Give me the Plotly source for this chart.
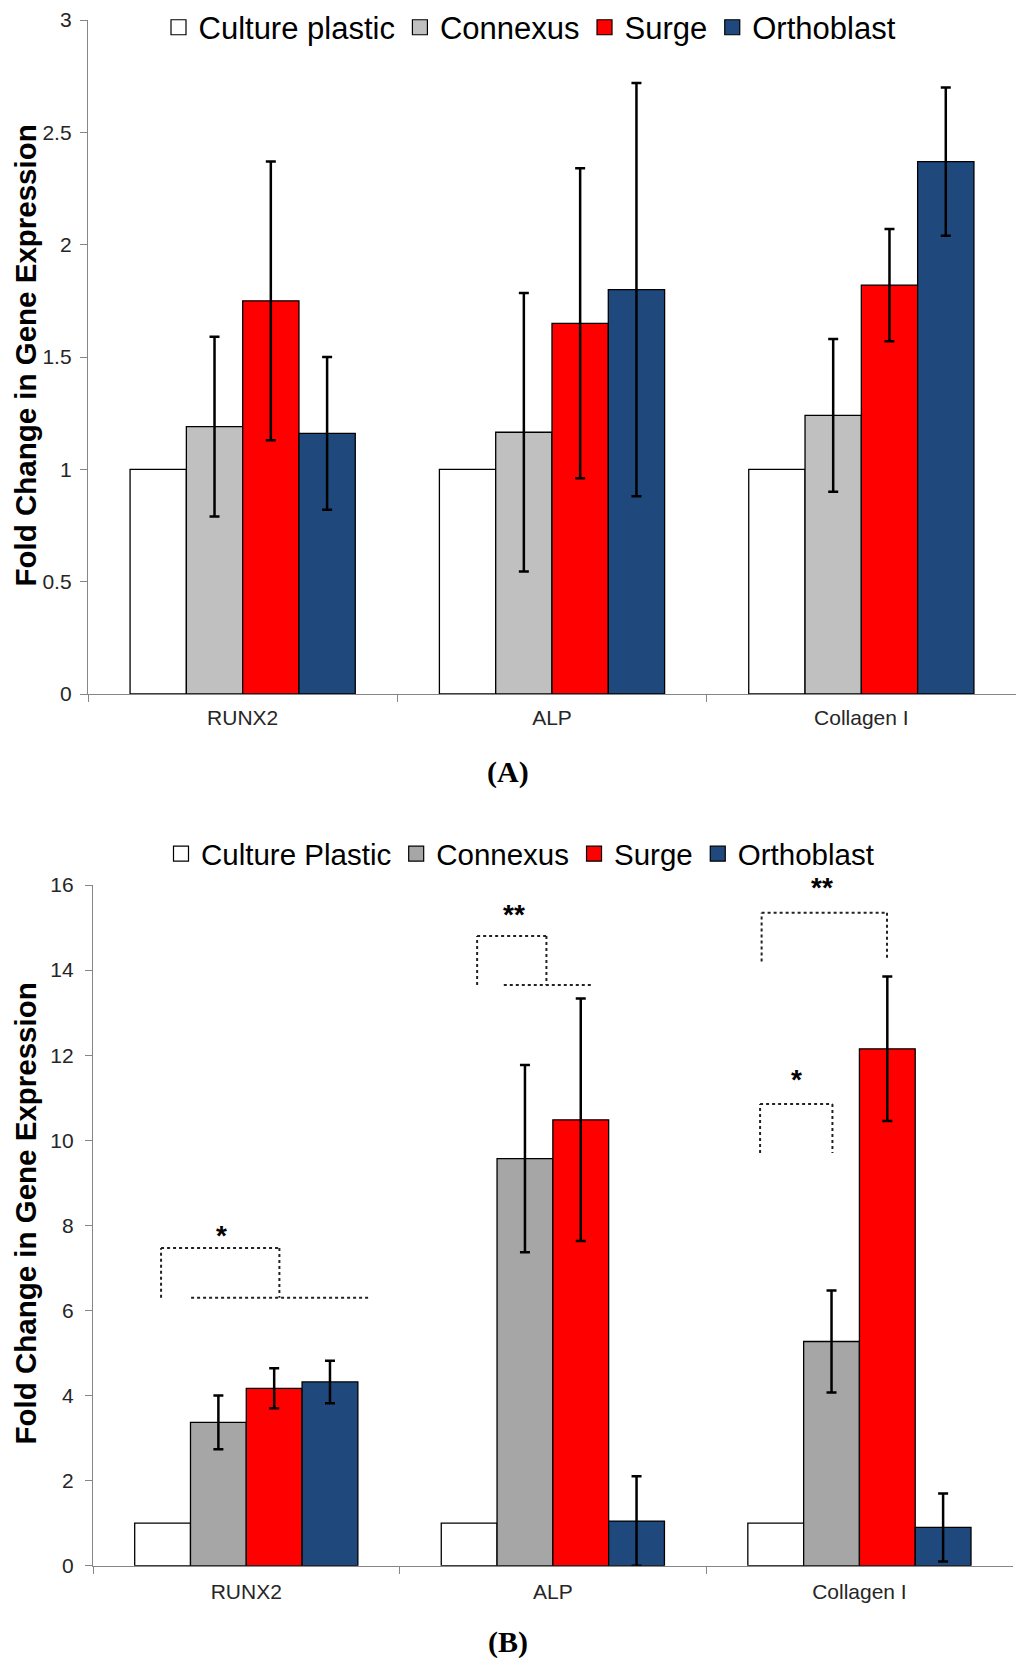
import plotly.graph_objects as go

genes = ["RUNX2", "ALP", "Collagen I"]

# panel A values (fold change, +/- error)
groups_a = ["Culture plastic", "Connexus", "Surge", "Orthoblast"]
a_plastic = [1, 1, 1]
a_connexus = [1.19, 1.165, 1.24]
a_connexus_err = [0.40, 0.62, 0.34]
a_surge = [1.75, 1.65, 1.82]
a_surge_err = [0.62, 0.69, 0.25]
a_ortho = [1.16, 1.80, 2.37]
a_ortho_err = [0.34, 0.92, 0.33]

# panel B values
groups_b = ["Culture Plastic", "Connexus", "Surge", "Orthoblast"]
b_plastic = [1, 1, 1]
b_connexus = [3.37, 9.57, 5.27]
b_connexus_err = [0.63, 2.2, 1.2]
b_surge = [4.17, 10.48, 12.15]
b_surge_err = [0.47, 2.85, 1.7]
b_ortho = [4.32, 1.05, 0.9]
b_ortho_err = [0.5, 1.05, 0.8]

# significance brackets in panel B (x = category index, y = fold change)
brackets_b = [
    [(-0.278, 6.3), (-0.278, 7.47), (0.108, 7.47), (0.108, 6.3)],
    [(-0.18, 6.3), (0.40, 6.3)],
    [(0.753, 13.65), (0.753, 14.8), (0.979, 14.8), (0.979, 13.65)],
    [(0.84, 13.65), (1.128, 13.65)],
    [(1.681, 14.2), (1.681, 15.35), (2.09, 15.35), (2.09, 14.25)],
    [(1.676, 9.7), (1.676, 10.85), (1.912, 10.85), (1.912, 9.7)],
]
stars_b = [("*", -0.08, 7.77), ("**", 0.872, 15.3), ("**", 1.878, 15.95), ("*", 1.794, 11.42)]

colors_a = ["#FFFFFF", "#C0C0C0", "#FF0000", "#1F497D"]
colors_b = ["#FFFFFF", "#A6A6A6", "#FF0000", "#1F497D"]

SANS = "Liberation Sans, Arial, sans-serif"
SERIF = "Liberation Serif, Times New Roman, serif"

# page body adds 8px around the figure, so the figure is 16px smaller
# and every pixel position below is shifted by -8
W, H = 1008, 1650
OFF = 8

fig = go.Figure()


def add_panel(fig, names, vals, errs, colors, xa, ya, legend):
    for name, v, e, c in zip(names, vals, errs, colors):
        err = dict(type="data", array=e, visible=True, color="black",
                   thickness=2.5, width=5) if e is not None else dict(visible=False)
        fig.add_trace(go.Bar(
            x=genes, y=v, name=name, showlegend=False,
            marker=dict(color=c, line=dict(color="black", width=1.3)),
            error_y=err, xaxis=xa, yaxis=ya,
        ))
    # bigger legend swatches than the built-in bar ones
    for name, c in zip(names, colors):
        fig.add_trace(go.Scatter(
            x=[None], y=[None], mode="markers", name=name, legend=legend,
            marker=dict(symbol="square", size=15, color=c, line=dict(color="black", width=1.2)),
            xaxis=xa, yaxis=ya,
        ))


add_panel(fig, groups_a, [a_plastic, a_connexus, a_surge, a_ortho],
          [None, a_connexus_err, a_surge_err, a_ortho_err], colors_a, "x", "y", "legend")
add_panel(fig, groups_b, [b_plastic, b_connexus, b_surge, b_ortho],
          [None, b_connexus_err, b_surge_err, b_ortho_err], colors_b, "x2", "y2", "legend2")

for pts in brackets_b:
    for (x0, y0), (x1, y1) in zip(pts[:-1], pts[1:]):
        fig.add_shape(type="line", xref="x2", yref="y2", x0=x0, y0=y0, x1=x1, y1=y1,
                      line=dict(color="#222", width=2, dash="dot"))

for txt, sx, sy in stars_b:
    fig.add_annotation(x=sx, y=sy, xref="x2", yref="y2", text="<b>%s</b>" % txt, showarrow=False,
                       font=dict(family=SANS, size=28, color="black"), yanchor="middle")


def px_x(p):
    return (p - OFF) / W


def px_y(p):
    return 1 - (p - OFF) / H


axis_common = dict(showline=True, linecolor="#868686", linewidth=1.3, ticks="outside",
                   tickcolor="#868686", ticklen=7, showgrid=False, zeroline=False,
                   automargin=False, ticklabeloverflow="allow",
                   tickfont=dict(family=SANS, size=21, color="#262626"))

fig.update_layout(
    width=W, height=H, autosize=False,
    margin=dict(l=0, r=0, t=0, b=0, autoexpand=False),
    plot_bgcolor="white", paper_bgcolor="white",
    barmode="group", bargap=0.272, bargroupgap=0,
    showlegend=True,
    xaxis=dict(domain=[px_x(88), 1.0], anchor="y", type="category", tickson="boundaries",
               ticklabelstandoff=5, **axis_common),
    yaxis=dict(domain=[px_y(694), px_y(20)], anchor="x", range=[0, 3], dtick=0.5,
               ticklabelstandoff=4, **axis_common),
    xaxis2=dict(domain=[px_x(93), px_x(1012.7)], anchor="y2", type="category", tickson="boundaries",
                ticklabelstandoff=7, **axis_common),
    yaxis2=dict(domain=[px_y(1565.7), px_y(885)], anchor="x2", range=[0, 16], dtick=2,
                ticklabelstandoff=7, **axis_common),
    legend=dict(orientation="h", x=px_x(530), xanchor="center", y=px_y(27.6), yanchor="middle",
                font=dict(family=SANS, size=31, color="black"), bgcolor="rgba(0,0,0,0)"),
    legend2=dict(orientation="h", x=px_x(520), xanchor="center", y=px_y(854), yanchor="middle",
                 font=dict(family=SANS, size=29.5, color="black"), bgcolor="rgba(0,0,0,0)"),
)

title = "<b>Fold Change in Gene Expression</b>"
for yc in [px_y(356), px_y(1214)]:
    fig.add_annotation(x=px_x(24.5), y=yc, xref="paper", yref="paper", text=title, textangle=-90,
                       showarrow=False, xanchor="center", yanchor="middle",
                       font=dict(family=SANS, size=29.5, color="black"))

for lab, yc in [("(A)", px_y(772)), ("(B)", px_y(1642))]:
    fig.add_annotation(x=px_x(508), y=yc, xref="paper", yref="paper", text="<b>%s</b>" % lab,
                       showarrow=False, xanchor="center", yanchor="middle",
                       font=dict(family=SERIF, size=30, color="black"))

fig.write_html("out.html")
